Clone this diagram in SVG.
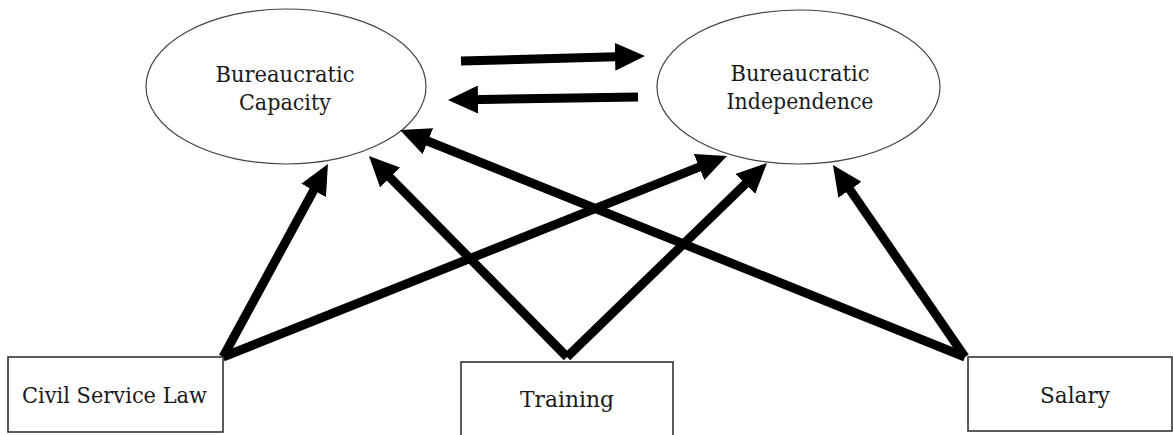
<svg xmlns="http://www.w3.org/2000/svg" width="1173" height="435" viewBox="0 0 1173 435">
  <style>
    .bg { fill: #ffffff; }
    .oval { fill: #ffffff; stroke: #444444; stroke-width: 1.2; }
    .box { fill: #ffffff; stroke: #333333; stroke-width: 1.6; }
    .label { font-family: "DejaVu Serif", "Liberation Serif", serif; font-size: 22.5px; fill: #1a1a1a; text-anchor: middle; }
    .link { fill: none; stroke: #000000; stroke-width: 9; stroke-linecap: butt; marker-end: url(#head); }
  </style>
  <defs>
    <marker id="head" markerUnits="userSpaceOnUse" markerWidth="30" markerHeight="28" refX="10" refY="14" orient="auto">
      <path d="M0,0 L30,14 L0,28 Z" fill="#000000"/>
    </marker>
  </defs>

  <rect class="bg" x="0" y="0" width="1173" height="435"/>

  <g id="node-capacity">
    <ellipse class="oval" cx="286" cy="86.5" rx="140" ry="77.5"/>
    <text class="label" x="285" y="82" textLength="139" lengthAdjust="spacingAndGlyphs">Bureaucratic</text>
    <text class="label" x="285" y="110" textLength="92" lengthAdjust="spacingAndGlyphs">Capacity</text>
  </g>

  <g id="node-independence">
    <ellipse class="oval" cx="798.5" cy="87" rx="141.5" ry="77"/>
    <text class="label" x="800" y="81" textLength="139" lengthAdjust="spacingAndGlyphs">Bureaucratic</text>
    <text class="label" x="800" y="109" textLength="147" lengthAdjust="spacingAndGlyphs">Independence</text>
  </g>

  <g id="connectors">
    <!-- mutual influence between the two latent concepts -->
    <line class="link" x1="461" y1="61" x2="625" y2="56.5"/>
    <line class="link" x1="638" y1="97" x2="468" y2="99.7"/>
    <!-- Civil Service Law -->
    <line class="link" x1="223" y1="357" x2="318.4" y2="181.6"/>
    <line class="link" x1="223" y1="357" x2="708.4" y2="163.4"/>
    <!-- Training -->
    <line class="link" x1="567" y1="357" x2="383" y2="170.3"/>
    <line class="link" x1="567" y1="357" x2="752.6" y2="176.9"/>
    <!-- Salary -->
    <line class="link" x1="965" y1="357" x2="418.6" y2="137.5"/>
    <line class="link" x1="965" y1="357" x2="844.3" y2="181.5"/>
  </g>

  <g id="node-civil-service-law">
    <rect class="box" x="8" y="357" width="215" height="75"/>
    <text class="label" x="114.5" y="403" textLength="185" lengthAdjust="spacingAndGlyphs">Civil Service Law</text>
  </g>

  <g id="node-training">
    <rect class="box" x="461" y="362" width="212" height="80"/>
    <text class="label" x="567" y="407" textLength="94" lengthAdjust="spacingAndGlyphs">Training</text>
  </g>

  <g id="node-salary">
    <rect class="box" x="968" y="357" width="204" height="74"/>
    <text class="label" x="1075" y="403" textLength="70" lengthAdjust="spacingAndGlyphs">Salary</text>
  </g>
</svg>
